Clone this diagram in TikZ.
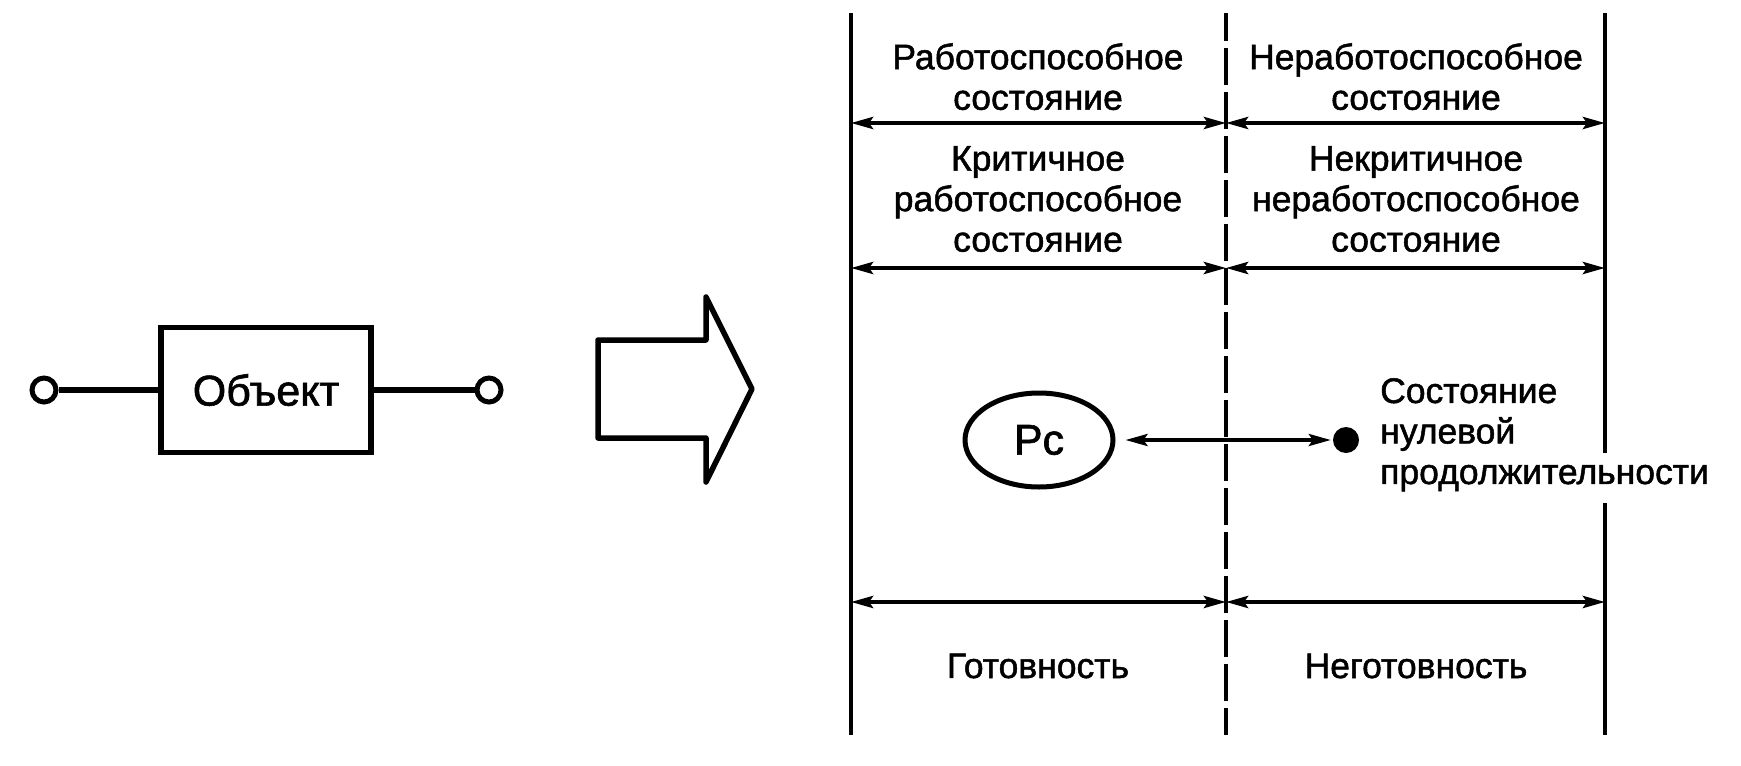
\documentclass[tikz,border=0pt]{standalone}
\usepackage{fontspec}
\setmainfont{Liberation Sans}[FakeBold=1.4]
\usetikzlibrary{arrows.meta,shapes.geometric}
\begin{document}
\begin{tikzpicture}[x=1pt,y=-1pt,
  txt/.style={inner sep=0pt,font=\fontsize{35.5}{40.5}\selectfont,align=center},
  big/.style={font=\fontsize{43}{48}\selectfont},
  vline/.style={line width=4pt},
  tip/.tip={Stealth[length=22pt,width=12pt,inset=4pt]},
  dim/.style={line width=4pt,tip-tip},
  thick5/.style={line width=5.5pt},
  term/.style={circle,draw,line width=5pt,minimum size=24pt,inner sep=0pt,fill=white}]
\useasboundingbox (0,0) rectangle (1741,766);
% left part
\node[thick5,draw,minimum width=210pt,minimum height=125pt,inner sep=0pt,big] (obj) at (266,390) {Объект};
\node[term] (t1) at (44,390) {};
\node[term] (t2) at (489,390) {};
\draw[thick5] (t1) -- (obj.west);
\draw[thick5] (obj.east) -- (t2);
% block arrow
\draw[thick5,line join=round] (598,340) -- (706,340) -- (706,297) -- (752,389) -- (706,482) -- (706,438) -- (598,438) -- cycle;
% verticals
\coordinate (Lt) at (851,13); \coordinate (Lb) at (851,735);
\coordinate (Mt) at (1226,13); \coordinate (Mb) at (1226,735);
\coordinate (Rt) at (1605,13); \coordinate (Rg1) at (1605,453); \coordinate (Rg2) at (1605,503); \coordinate (Rb) at (1605,735);
\draw[vline] (Lt) -- (Lb);
\draw[vline,dash pattern=on 37pt off 7pt,dash phase=9pt] (Mt) -- (Mb);
\draw[vline] (Rt) -- (Rg1);
\draw[vline] (Rg2) -- (Rb);
% dimension arrows
\coordinate (L1) at (851,123); \coordinate (M1) at (1226,123); \coordinate (R1) at (1605,123);
\coordinate (L2) at (851,268); \coordinate (M2) at (1226,268); \coordinate (R2) at (1605,268);
\coordinate (L3) at (851,602); \coordinate (M3) at (1226,602); \coordinate (R3) at (1605,602);
\draw[dim] (L1) -- (M1); \draw[dim] (M1) -- (R1);
\draw[dim] (L2) -- (M2); \draw[dim] (M2) -- (R2);
\draw[dim] (L3) -- (M3); \draw[dim] (M3) -- (R3);
% texts
\node[txt,anchor=north] (a1) at (1038,43) {Работоспособное\\состояние};
\node[txt,anchor=north] (a2) at (1416,43) {Неработоспособное\\состояние};
\node[txt,anchor=north] (b1) at (1038,146) {Критичное\\работоспособное\\состояние};
\node[txt,anchor=north] (b2) at (1416,146) {Некритичное\\неработоспособное\\состояние};
\node[txt,anchor=base] (c1) at (1038,678) {Готовность};
\node[txt,anchor=base] (c2) at (1416,678) {Неготовность};
% Pc and zero-duration state
\node[ellipse,draw,line width=5pt,minimum width=148pt,minimum height=94pt,inner sep=0pt,big] (pc) at (1039,440) {Pc};
\node[circle,fill=black,minimum size=26pt,inner sep=0pt] (dot) at (1346,440) {};
\draw[line width=3.5pt,tip-tip,shorten <=10pt,shorten >=2pt] (pc) -- (dot);
\node[txt,align=left,anchor=north west] (zs) at (1380,378) {Состояние\\нулевой\\продолжительности};
\end{tikzpicture}
\end{document}
